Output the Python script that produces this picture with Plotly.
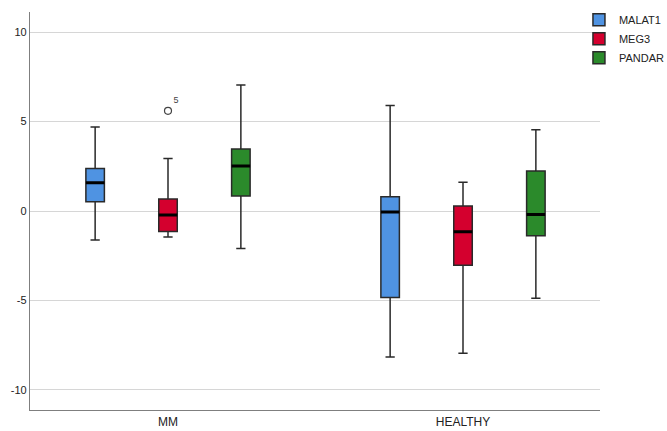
import plotly.graph_objects as go

# Group labels and per-gene box statistics (lowerfence, q1, median, q3, upperfence)
groups = ["MM", "HEALTHY"]
genes = ["MALAT1", "MEG3", "PANDAR"]
colors = {"MALAT1": "#4f93e2", "MEG3": "#d4002e", "PANDAR": "#2b8a2b"}

lower_fence = {"MALAT1": [-1.62, -8.16], "MEG3": [-1.45, -7.95], "PANDAR": [-2.10, -4.88]}
q1 = {"MALAT1": [0.52, -4.84], "MEG3": [-1.14, -3.03], "PANDAR": [0.84, -1.38]}
median = {"MALAT1": [1.58, -0.05], "MEG3": [-0.22, -1.16], "PANDAR": [2.51, -0.20]}
q3 = {"MALAT1": [2.38, 0.80], "MEG3": [0.67, 0.28], "PANDAR": [3.46, 2.23]}
upper_fence = {"MALAT1": [4.69, 5.90], "MEG3": [2.94, 1.60], "PANDAR": [7.04, 4.54]}

# Outlying case (MEG3, MM group)
outlier_group = ["MM"]
outlier_value = [5.6]
outlier_case = ["5"]

y_ticks = [-10, -5, 0, 5, 10]
y_tick_text = ["-10", "-5", "0", "5", "10"]

fig = go.Figure()

for g in genes:
    fig.add_trace(go.Box(
        name=g, x=groups,
        lowerfence=lower_fence[g], q1=q1[g], median=median[g],
        q3=q3[g], upperfence=upper_fence[g],
        fillcolor=colors[g],
        line=dict(color="#2a2a2a", width=1.5),
        whiskerwidth=0.5,
        boxpoints=False,
        alignmentgroup="genes", offsetgroup=g,
        hoverinfo="skip",
    ))

# Thick black median bars drawn on top of each box
for g in genes:
    fig.add_trace(go.Box(
        name=g, x=groups,
        lowerfence=median[g], q1=median[g], median=median[g],
        q3=median[g], upperfence=median[g],
        fillcolor="rgba(0,0,0,0)",
        line=dict(color="#000000", width=3),
        whiskerwidth=0,
        boxpoints=False,
        alignmentgroup="genes", offsetgroup=g,
        showlegend=False, hoverinfo="skip",
    ))

fig.add_trace(go.Scatter(
    x=outlier_group, y=outlier_value, mode="markers+text",
    marker=dict(symbol="circle-open", size=7, color="#444444", line=dict(width=1.2)),
    text=outlier_case, textposition="top right",
    textfont=dict(size=9, color="#444444", family="Liberation Sans, Arial, sans-serif"),
    showlegend=False, hoverinfo="skip",
))

fig.update_layout(
    width=667, height=431,
    margin=dict(l=30, r=67, t=12, b=21, autoexpand=False),
    paper_bgcolor="white", plot_bgcolor="white",
    boxmode="group", boxgap=0.259, boxgroupgap=0.746,
    font=dict(family="Liberation Sans, Arial, sans-serif", size=11, color="#222222"),
    showlegend=True,
    legend=dict(
        xref="container", yref="container",
        x=0.868, y=0.988, xanchor="left", yanchor="top",
        font=dict(size=11, color="#222222"),
        tracegroupgap=0, itemwidth=30,
        bgcolor="rgba(0,0,0,0)",
    ),
)

fig.update_xaxes(
    type="category", range=[-0.4678, 1.4644],
    showline=True, linecolor="#7f7f7f", linewidth=1.3,
    showgrid=False, ticks="", zeroline=False, automargin=False,
    tickfont=dict(size=12, color="#222222"),
)
fig.update_yaxes(
    range=[-11.12, 11.12],
    tickvals=y_ticks, ticktext=y_tick_text,
    showline=True, linecolor="#7f7f7f", linewidth=1.3,
    showgrid=True, gridcolor="#d6d6d6", gridwidth=1.3,
    zeroline=False, ticks="", automargin=False,
    tickfont=dict(size=11, color="#222222"),
)

fig.write_html("out.html")
